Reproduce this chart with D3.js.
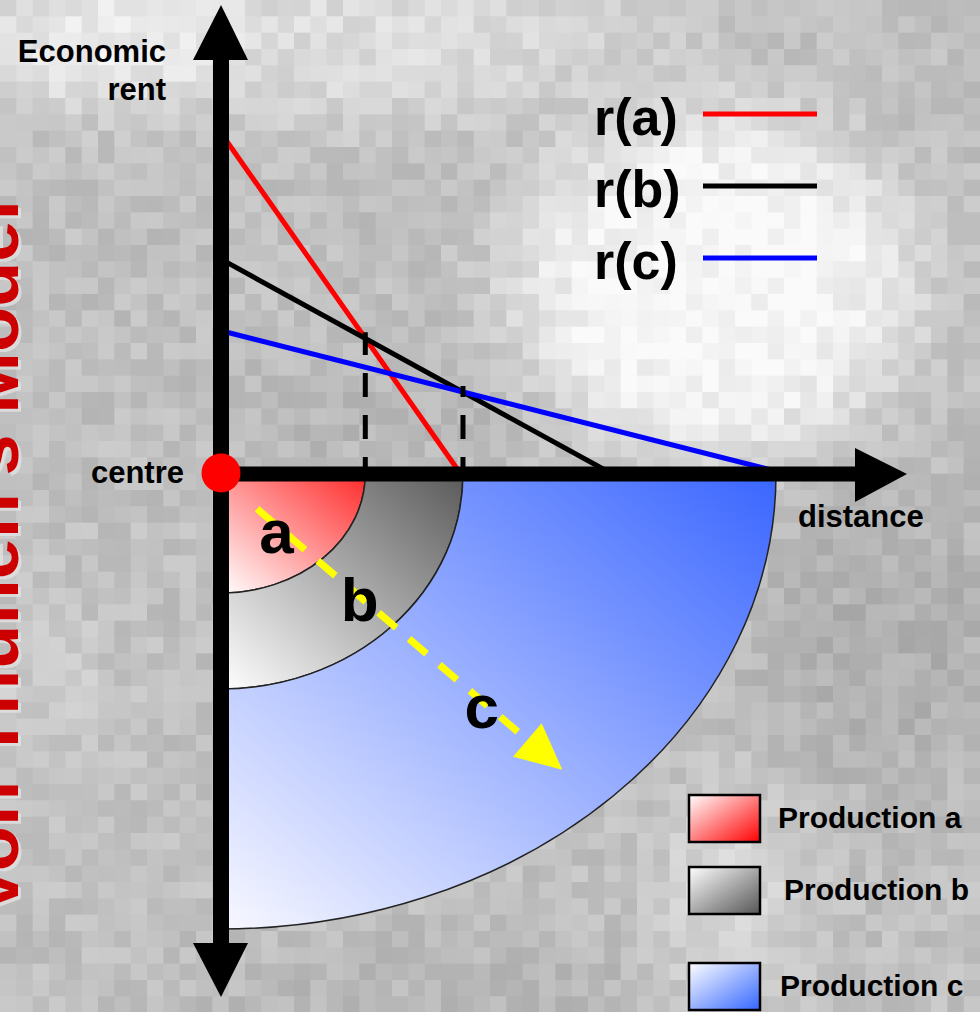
<!DOCTYPE html>
<html>
<head>
<meta charset="utf-8">
<script src="https://cdn.jsdelivr.net/npm/d3@7"></script>
<style>
  html, body { margin: 0; padding: 0; background: #c4c4c4; }
  svg { display: block; }
  text { font-family: "Liberation Sans", Arial, Helvetica, sans-serif; font-weight: bold; }
</style>
</head>
<body>
<svg id="chart" width="980" height="1012"></svg>
<script>
// ---- Data: Von Thünen bid-rent model ----
const zones = ["a", "b", "c"];
const rentSeries = ["r(a)", "r(b)", "r(c)"];
const rentAtCentre = [100, 63, 42];          // economic rent at distance 0
const rentReach = [43.2, 70.5, 102];         // distance where the rent falls to zero
const zoneEdges = [26, 43.6, 100];           // outer limit of each production zone
const legendLabels = ["Production a", "Production b", "Production c"];
const zoneLetterPos = [[10, 12.4], [25, 27], [47, 47.5]];   // letter anchors (distance units, across/down)
const flowArrow = [[6.5, 7.6], [61.5, 62.6]];               // yellow direction arrow (distance units)

const lineColors = ["#ff0000", "#000000", "#0000ff"];
const zoneColors = ["#ff2a2a", "#5a5a5a", "#3a66ff"];
const boxColors = ["#ff0000", "#555555", "#3366ff"];

const W = 980, H = 1012;
const svg = d3.select("#chart");
const defs = svg.append("defs");

// ---- Scales ----
const x = d3.scaleLinear().domain([0, 100]).range([221, 776]);      // distance to the right
const y = d3.scaleLinear().domain([0, 100]).range([474, 133]);      // economic rent upward
const depth = d3.scaleLinear()                                       // distance drawn downward (map view)
  .domain([0, zoneEdges[0], zoneEdges[1], zoneEdges[2]])
  .range([474, 593, 689, 929]);

// ---- Background texture: blocky grey mosaic ----
function hash(i, j) {
  let h = Math.imul(i, 374761393) ^ Math.imul(j, 668265263);
  h = Math.imul(h ^ (h >>> 13), 1274126177);
  h = h ^ (h >>> 16);
  return (h >>> 0) / 4294967296;
}
function blob(px, py, cx, cy, rx, ry, p) {
  const d = ((px - cx) / rx) ** 2 + ((py - cy) / ry) ** 2;
  return Math.exp(-Math.pow(d, p || 1.5));
}
function tone(px, py, i, j) {
  let v = 192;
  v += 56 * blob(px, py, 715, 285, 210, 180, 2.5);
  v += 28 * blob(px, py, 330, 40, 330, 90);
  v += 24 * blob(px, py, 60, 40, 150, 70);
  v += 22 * blob(px, py, 730, 910, 80, 130);
  v += 10 * blob(px, py, 40, 680, 80, 90);
  v -= 16 * blob(px, py, 890, 640, 140, 170);
  v -= 8 * blob(px, py, 380, 410, 160, 70);
  v -= 8 * blob(px, py, 450, 990, 250, 60);
  v += (hash(i, j) - 0.5) * 24;
  return Math.max(150, Math.min(250, Math.round(v)));
}
const cell = W / 60;
const cells = [];
for (let j = 0; j < Math.ceil(H / cell); j++)
  for (let i = 0; i < 60; i++) cells.push([i, j]);
svg.append("g").attr("class", "texture")
  .selectAll("rect").data(cells).join("rect")
  .attr("x", d => d[0] * cell)
  .attr("y", d => d[1] * cell)
  .attr("width", cell + 0.6)
  .attr("height", cell + 0.6)
  .attr("fill", d => {
    const g = tone((d[0] + 0.5) * cell, (d[1] + 0.5) * cell, d[0], d[1]);
    return `rgb(${g},${g},${g})`;
  });

// ---- Gradients ----
zones.forEach((z, k) => {
  const g = defs.append("linearGradient").attr("id", "zone-" + z)
    .attr("x1", 0).attr("y1", 1).attr("x2", 1).attr("y2", 0);
  g.append("stop").attr("offset", 0).attr("stop-color", k === 2 ? "#f8f8ff" : "#ffffff");
  g.append("stop").attr("offset", 1).attr("stop-color", zoneColors[k]);

  const b = defs.append("linearGradient").attr("id", "box-" + z)
    .attr("x1", 0).attr("y1", 0).attr("x2", 1).attr("y2", 1);
  b.append("stop").attr("offset", 0).attr("stop-color", "#ffffff");
  b.append("stop").attr("offset", 1).attr("stop-color", boxColors[k]);
});

// ---- Title down the left edge ----
const title = "Von Thünen's Model";
svg.append("text")
  .attr("transform", "translate(21,918) rotate(-90)")
  .attr("font-size", 74).attr("fill", "#e2e2e2").attr("opacity", 0.8)
  .text(title);
svg.append("text")
  .attr("transform", "translate(18,915) rotate(-90)")
  .attr("font-size", 74).attr("fill", "#cc0000")
  .text(title);

// ---- Production zones (quarter rings) ----
const ox = x(0), oy = y(0);
function ringPath(r0, r1) {
  const rx1 = x(r1) - ox, ry1 = depth(r1) - oy;
  let p = `M${x(r1)},${oy} A${rx1},${ry1} 0 0 1 ${ox},${depth(r1)}`;
  if (r0 > 0) {
    const rx0 = x(r0) - ox, ry0 = depth(r0) - oy;
    p += ` L${ox},${depth(r0)} A${rx0},${ry0} 0 0 0 ${x(r0)},${oy} Z`;
  } else {
    p += ` L${ox},${oy} Z`;
  }
  return p;
}
svg.append("g").selectAll("path").data(zones).join("path")
  .attr("d", (z, k) => ringPath(k === 0 ? 0 : zoneEdges[k - 1], zoneEdges[k]))
  .attr("fill", z => `url(#zone-${z})`)
  .attr("stroke", "#222")
  .attr("stroke-width", 1.5);

// ---- Yellow direction arrow across the zones ----
const ay0 = [x(flowArrow[0][0]), depth(flowArrow[0][1])];
const ay1 = [x(flowArrow[1][0]), depth(flowArrow[1][1])];
const ang = Math.atan2(ay1[1] - ay0[1], ay1[0] - ay0[0]);
const headLen = 46, headHalf = 22;
const baseX = ay1[0] - headLen * Math.cos(ang), baseY = ay1[1] - headLen * Math.sin(ang);
svg.append("line")
  .attr("x1", ay0[0]).attr("y1", ay0[1])
  .attr("x2", baseX + 4 * Math.cos(ang)).attr("y2", baseY + 4 * Math.sin(ang))
  .attr("stroke", "#ffff00").attr("stroke-width", 7)
  .attr("stroke-dasharray", "23,17");
svg.append("path")
  .attr("d", `M${ay1[0]},${ay1[1]}
    L${baseX - headHalf * Math.sin(ang)},${baseY + headHalf * Math.cos(ang)}
    L${baseX + headHalf * Math.sin(ang)},${baseY - headHalf * Math.cos(ang)} Z`)
  .attr("fill", "#ffff00");

// Zone letters
svg.append("g").selectAll("text").data(zones).join("text")
  .attr("x", (z, k) => x(zoneLetterPos[k][0]))
  .attr("y", (z, k) => depth(zoneLetterPos[k][1]))
  .attr("dy", "0.36em")
  .attr("text-anchor", "middle")
  .attr("font-size", 62).attr("fill", "#000")
  .text(z => z);

// ---- Bid-rent lines ----
const rentAt = (k, d) => rentAtCentre[k] * (1 - d / rentReach[k]);
svg.append("g").selectAll("line").data(rentSeries).join("line")
  .attr("x1", x(0)).attr("y1", (s, k) => y(rentAtCentre[k]))
  .attr("x2", (s, k) => x(rentReach[k])).attr("y2", y(0))
  .attr("stroke", (s, k) => lineColors[k])
  .attr("stroke-width", 5);

// Dashed drop lines at zone boundaries a|b and b|c
svg.append("g").selectAll("line").data(zoneEdges.slice(0, 2)).join("line")
  .attr("x1", d => x(d)).attr("x2", d => x(d))
  .attr("y1", y(0) + 7)
  .attr("y2", (d, k) => y(Math.max(rentAt(k, d), rentAt(k + 1, d))) - 6)
  .attr("stroke", "#000").attr("stroke-width", 5)
  .attr("stroke-dasharray", "24,18");

// ---- Axes as arrows ----
const axes = svg.append("g");
axes.append("line")
  .attr("x1", ox).attr("y1", 60).attr("x2", ox).attr("y2", 943)
  .attr("stroke", "#000").attr("stroke-width", 16);
axes.append("path")
  .attr("d", `M${ox - 28},60 L${ox + 27},60 L${ox},5 Z`).attr("fill", "#000");
axes.append("path")
  .attr("d", `M${ox - 28},943 L${ox + 27},943 L${ox},997 Z`).attr("fill", "#000");
axes.append("line")
  .attr("x1", ox).attr("y1", oy).attr("x2", 856).attr("y2", oy)
  .attr("stroke", "#000").attr("stroke-width", 15);
axes.append("path")
  .attr("d", `M855,${oy - 26} L855,${oy + 28} L907,${oy} Z`).attr("fill", "#000");

// Centre marker
svg.append("circle").attr("cx", ox).attr("cy", oy - 1).attr("r", 19.5).attr("fill", "#ff0000");

// ---- Axis labels ----
const lab = svg.append("g").attr("font-size", 31).attr("fill", "#000");
lab.append("text").attr("x", 166).attr("y", 62).attr("text-anchor", "end").text("Economic");
lab.append("text").attr("x", 166).attr("y", 100).attr("text-anchor", "end").text("rent");
lab.append("text").attr("x", 184).attr("y", 483).attr("text-anchor", "end").text("centre");
lab.append("text").attr("x", 798).attr("y", 527).text("distance");

// ---- Rent line legend ----
const rentLegendY = [114, 186, 258];
const rl = svg.append("g");
rl.selectAll("text").data(rentSeries).join("text")
  .attr("x", 594).attr("y", (s, k) => rentLegendY[k] + 21)
  .attr("font-size", 52).attr("fill", "#000")
  .text(s => s);
rl.selectAll("line").data(rentSeries).join("line")
  .attr("x1", 703).attr("x2", 817)
  .attr("y1", (s, k) => rentLegendY[k]).attr("y2", (s, k) => rentLegendY[k])
  .attr("stroke", (s, k) => lineColors[k]).attr("stroke-width", 5);

// ---- Production legend ----
const boxY = [795, 867, 963];
const textX = [778, 784, 780];
const pl = svg.append("g");
pl.selectAll("rect").data(zones).join("rect")
  .attr("x", 689).attr("y", (z, k) => boxY[k])
  .attr("width", 71).attr("height", 47)
  .attr("fill", z => `url(#box-${z})`)
  .attr("stroke", "#000").attr("stroke-width", 2.5);
pl.selectAll("text").data(legendLabels).join("text")
  .attr("x", (s, k) => textX[k]).attr("y", (s, k) => boxY[k] + 33)
  .attr("font-size", 30).attr("fill", "#000")
  .text(s => s);
</script>
</body>
</html>
